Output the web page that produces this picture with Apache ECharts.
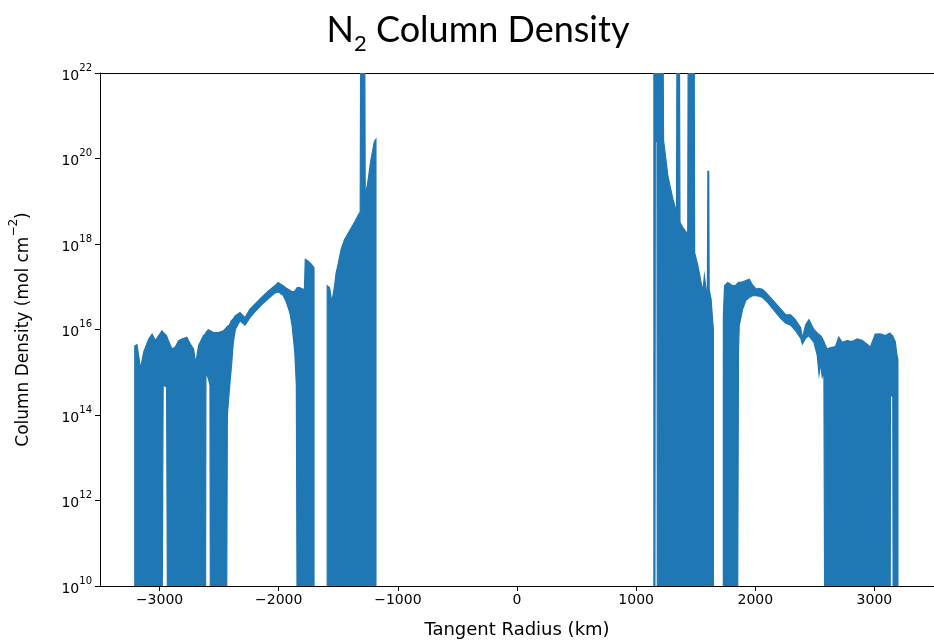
<!DOCTYPE html>
<html><head><meta charset="utf-8">
<script src="https://cdn.jsdelivr.net/npm/echarts@6/dist/echarts.min.js"></script>
<style>html,body{margin:0;padding:0;background:#fff}#c{width:934px;height:644px}</style>
</head><body><div id="c"></div><script>
// Tangent radius (km); null separates stretches with no data
const radius = [
 -3208,-3189,-3160,-3133,-3091,-3063,-3035,-3007,-2980,-2970,-2941,-2932,-2896,-2868,-2840,-2813,-2771,-2743,-2715,-2696,
 -2673,-2632,-2615,-2611,-2590,-2577,-2573,-2548,-2506,-2464,-2439,-2431,-2414,-2398,-2381,-2364,-2325,-2283,-2241,-2200,
 -2144,-2089,-2033,-2005,-1963,-1938,-1907,-1888,-1865,-1852,-1844,-1824,-1796,-1784,-1777,-1754,-1727,-1704,
 null,
 -1593,-1573,-1554,-1531,-1518,-1504,-1476,-1448,-1406,-1364,-1337,-1316,-1312,-1278,-1274,-1253,-1226,-1197,-1184,
 null,
 1149,1157,1161,1175,1178,1226,1230,1267,1309,1339,1343,1363,1368,1393,1420,1433,1437,1487,1491,1518,
 1545,1560,1573,1587,1598,1602,1609,1613,1629,1643,1648,
 null,
 1732,1742,1769,1810,1838,1850,1859,1865,1894,1921,1949,1977,2005,2033,2061,2103,2158,2214,2256,2297,
 2339,2381,2395,2423,2450,2492,2520,2535,2548,2562,2576,2584,2604,2632,2673,2701,2729,2771,2813,2855,
 2896,2938,2966,3007,3049,3091,3131,3135,3154,3158,3175,3189,3197
];
// Upper envelope of column density (mol cm^-2)
const upper = [
 4.1e15,4.4e15,1.2e15,3.0e15,6.0e15,7.8e15,5.5e15,7.2e15,9.3e15,8.5e15,7.1e15,6.0e15,3.5e15,3.9e15,5.5e15,6.0e15,6.6e15,4.6e15,3.5e15,1.6e15,
 4.2e15,7.2e15,7.9e15,8.5e15,1.0e16,9.3e15,9.3e15,8.5e15,8.5e15,9.3e15,1.1e16,1.2e16,1.26e16,1.6e16,1.8e16,2.1e16,2.5e16,1.9e16,3.0e16,3.9e16,
 5.6e16,7.9e16,1.05e17,1.26e17,1.05e17,9.3e16,8.3e16,7.6e16,7.9e16,8.9e16,9.5e16,9.5e16,8.7e16,8.9e16,4.4e17,4.0e17,3.4e17,2.8e17,
 null,
 1.05e17,9.5e16,4.3e16,1.05e17,2.1e17,3.1e17,7.6e17,1.26e18,2.0e18,3.2e18,4.5e18,5.6e18,1e23,1e23,1.3e19,2.7e19,9.3e19,2.5e20,2.8e20,
 null,
 1e23,1e23,1e23,1e23,1e23,1e23,2.7e20,3.8e19,1.1e19,5.5e18,1e23,1e23,3.2e18,2.4e18,1.9e18,1.6e18,1e23,1e23,6.3e17,3.1e17,
 1.26e17,7.9e16,1.8e17,8.7e16,7.9e16,5e19,5e19,8.7e16,5.1e16,1.5e16,1.0e16,
 null,
 2.0e16,1.05e17,1.26e17,1.05e17,1.1e17,1.2e17,1.26e17,1.26e17,1.3e17,1.4e17,1.5e17,1.1e17,8.9e16,9.1e16,8.7e16,6.6e16,4.5e16,3.0e16,2.2e16,2.2e16,
 1.66e16,1.1e16,6.3e15,1.3e16,1.7e16,1.0e16,8.3e15,7.6e15,7.2e15,6.3e15,5.2e15,4.5e15,3.5e15,3.8e15,4.0e15,6.6e15,5.0e15,5.5e15,5.2e15,6.0e15,
 5.6e15,4.5e15,3.9e15,7.8e15,7.9e15,7.2e15,8.3e15,7.9e15,7.1e15,6.6e15,5.2e15,2.5e15,2.0e15
];
// Lower envelope (1e8 = drops below the plotted range)
const lower = [
 1e8,1e8,1e8,1e8,1e8,1e8,1e8,1e8,1e8,5e14,4.5e14,1e8,1e8,1e8,1e8,1e8,1e8,1e8,1e8,1e8,
 1e8,1e8,1e8,1e15,7e14,5e14,1e8,1e8,1e8,1e8,1e8,1e14,4e14,1.26e15,5e15,1e16,1.6e16,1.26e16,1.9e16,2.6e16,
 3.8e16,5.2e16,7.1e16,7.6e16,6.3e16,4.5e16,2.5e16,1.26e16,3e15,4.9e14,1e8,1e8,1e8,1e8,1e8,1e8,1e8,1e8,
 null,
 1e8,1e8,1e8,1e8,1e8,1e8,1e8,1e8,1e8,1e8,1e8,1e8,1e8,1e8,1e8,1e8,1e8,1e8,1e8,
 null,
 1e8,1e8,2.5e20,2.5e20,1e8,1e8,1e8,1e8,1e8,1e8,1e8,1e8,1e8,1e8,1e8,1e8,1e8,1e8,1e8,1e8,
 1e8,1e8,1e8,1e8,1e8,1e8,1e8,1e8,1e8,1e8,1e8,
 null,
 1e8,1e8,1e8,1e8,1e8,1e8,3e15,1.23e16,3.0e16,4.8e16,5.6e16,6.2e16,6.2e16,6.0e16,5.6e16,4.3e16,2.8e16,1.8e16,1.4e16,1.26e16,
 9.3e15,6.3e15,4.6e15,6.3e15,7.1e15,5e15,2.5e15,8.9e14,1.6e15,7.8e14,1e15,1e8,1e8,1e8,1e8,1e8,1e8,1e8,1e8,1e8,
 1e8,1e8,1e8,1e8,1e8,1e8,1e8,2.8e14,2.8e14,1e8,1e8,1e8,1e8
];
const xTicks = [-3000,-2000,-1000,0,1000,2000,3000];
const yTicks = [1e10,1e12,1e14,1e16,1e18,1e20,1e22];

const runs = [];
let cur = null;
for (let i = 0; i < radius.length; i++) {
  if (radius[i] === null) { cur = null; continue; }
  if (!cur) { cur = {s: i, e: i}; runs.push(cur); } else cur.e = i;
}
const BLUE = '#1f77b4';
const chart = echarts.init(document.getElementById('c'), null, {renderer: 'canvas'});
const tickFont = {fontFamily: 'DejaVu Sans', fontSize: 14, color: '#000'};
chart.setOption({
  animation: false,
  backgroundColor: '#fff',
  title: {
    text: '{n|N}{sub|2}{n| Column Density}',
    left: 473, top: 0, textAlign: 'center',
    textStyle: {
      fontWeight: 'normal',
      rich: {
        n: {fontFamily: 'Lato', fontSize: 36, fontWeight: 'normal', color: '#000', lineHeight: 50},
        sub: {fontFamily: 'Lato', fontSize: 22, fontWeight: 'normal', color: '#000', lineHeight: 20, verticalAlign: 'bottom'}
      }
    }
  },
  grid: {left: 100, top: 73, width: 839, bottom: 56, containLabel: false},
  xAxis: [{
    type: 'value', min: -3500, max: 3500, position: 'bottom',
    axisLine: {show: true, onZero: false, lineStyle: {color: '#000', width: 1}},
    axisTick: {show: true, length: 5, customValues: xTicks, lineStyle: {color: '#000'}},
    axisLabel: Object.assign({customValues: xTicks, margin: 7,
      formatter: v => (v < 0 ? '\u2212' + Math.abs(v) : String(v))}, tickFont),
    splitLine: {show: false},
    name: 'Tangent Radius (km)', nameLocation: 'middle', nameGap: 35,
    nameTextStyle: {fontFamily: 'DejaVu Sans', fontSize: 18, color: '#000'}
  }, {
    type: 'value', min: -3500, max: 3500, position: 'top',
    axisLine: {show: true, onZero: false, lineStyle: {color: '#000', width: 1}},
    axisTick: {show: false}, axisLabel: {show: false}, splitLine: {show: false}
  }],
  yAxis: {
    type: 'log', logBase: 10, min: 1e10, max: 1e22, position: 'left',
    axisLine: {show: true, onZero: false, lineStyle: {color: '#000', width: 1}},
    axisTick: {show: true, length: 5, customValues: yTicks, lineStyle: {color: '#000'}},
    minorTick: {show: false}, splitLine: {show: false},
    axisLabel: {
      customValues: yTicks, margin: 8,
      formatter: v => '{b|10}{s|' + Math.round(Math.log10(v)) + '}',
      rich: {
        b: {fontFamily: 'DejaVu Sans', fontSize: 14, color: '#000', lineHeight: 20, verticalAlign: 'bottom'},
        s: {fontFamily: 'DejaVu Sans', fontSize: 10, color: '#000', lineHeight: 13, verticalAlign: 'top'}
      }
    },
    name: '{t|Column Density (mol cm}{s|\u22122}{t|)}',
    nameLocation: 'middle', nameGap: 68, nameRotate: 90,
    nameTextStyle: {
      rich: {
        t: {fontFamily: 'DejaVu Sans', fontSize: 17, color: '#000', lineHeight: 24, verticalAlign: 'bottom'},
        s: {fontFamily: 'DejaVu Sans', fontSize: 12, color: '#000', lineHeight: 16, verticalAlign: 'top'}
      }
    }
  },
  series: [{
    type: 'custom', coordinateSystem: 'cartesian2d', clip: true,
    data: runs.map((r, k) => [radius[r.s], upper[r.s], k]),
    encode: {x: 0, y: 1},
    renderItem: function (params, api) {
      const r = runs[api.value(2)];
      const pts = [];
      for (let i = r.s; i <= r.e; i++) pts.push(api.coord([radius[i], upper[i]]));
      for (let i = r.e; i >= r.s; i--) pts.push(api.coord([radius[i], lower[i]]));
      return {type: 'polygon', shape: {points: pts},
        style: {fill: BLUE, stroke: BLUE, lineWidth: 1.2, lineJoin: 'miter'}};
    }
  }]
});
</script></body></html>
